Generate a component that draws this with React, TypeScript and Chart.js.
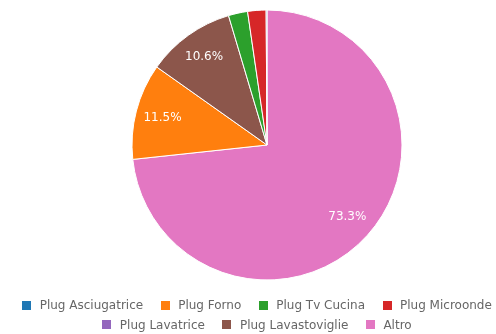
import React, { useEffect, useRef } from "react";
import { Chart, registerables } from "chart.js";

Chart.register(...registerables);

// Legend order (as shown in the reference legend)
const categories = [
  "Plug Asciugatrice",
  "Plug Forno",
  "Plug Tv Cucina",
  "Plug Microonde",
  "Plug Lavatrice",
  "Plug Lavastoviglie",
  "Altro",
];
const values = [0.1, 11.5, 2.3, 2.2, 0, 10.6, 73.3];
const colors = ["#1f77b4", "#ff7f0e", "#2ca02c", "#d62728", "#9467bd", "#8c564b", "#e377c2"];

const FONT = '"DejaVu Sans", sans-serif';

// Slices are drawn largest first, clockwise from the top
const order = categories.map((_, i) => i).sort((a, b) => values[b] - values[a]);

const sliceLabels = {
  id: "sliceLabels",
  afterDatasetsDraw(chart: any) {
    const ctx = chart.ctx;
    const meta = chart.getDatasetMeta(0);
    const data = chart.data.datasets[0].data as number[];
    const total = data.reduce((a, b) => a + b, 0);
    ctx.save();
    ctx.font = `12px ${FONT}`;
    ctx.fillStyle = "#ffffff";
    ctx.textAlign = "center";
    ctx.textBaseline = "middle";
    meta.data.forEach((arc: any, i: number) => {
      const pct = (data[i] / total) * 100;
      if (pct < 5) return;
      const { x, y, startAngle, endAngle, outerRadius } = arc.getProps(
        ["x", "y", "startAngle", "endAngle", "outerRadius"],
        true
      );
      const mid = (startAngle + endAngle) / 2;
      const r = outerRadius * 0.8;
      ctx.fillText(pct.toFixed(1) + "%", x + Math.cos(mid) * r, y + Math.sin(mid) * r);
    });
    ctx.restore();
  },
};

export default function App() {
  const canvasRef = useRef<HTMLCanvasElement | null>(null);

  useEffect(() => {
    if (!canvasRef.current) return;
    const chart = new Chart(canvasRef.current, {
      type: "pie",
      data: {
        labels: order.map((i) => categories[i]),
        datasets: [
          {
            data: order.map((i) => values[i]),
            backgroundColor: order.map((i) => colors[i]),
            borderColor: "#ffffff",
            borderWidth: 1,
            hoverBorderWidth: 1,
          },
        ],
      },
      options: {
        animation: false,
        responsive: true,
        maintainAspectRatio: false,
        radius: 135,
        layout: { padding: { left: 38, right: 0, top: 10, bottom: 54 } },
        plugins: {
          legend: { display: false },
          tooltip: { enabled: false },
        },
      } as any,
      plugins: [sliceLabels],
    });
    return () => chart.destroy();
  }, []);

  return (
    <div
      style={{
        position: "fixed",
        left: 0,
        top: 0,
        width: 496,
        height: 334,
        overflow: "hidden",
        background: "#ffffff",
      }}
    >
      <div style={{ position: "absolute", left: 0, top: 0, width: 496, height: 334 }}>
        <canvas ref={canvasRef} />
      </div>
      <div
        style={{
          position: "absolute",
          left: 9,
          top: 298,
          width: 496,
          display: "flex",
          flexWrap: "wrap",
          justifyContent: "center",
          columnGap: 17.5,
          rowGap: 5.5,
          fontFamily: FONT,
          fontSize: 12,
          lineHeight: "14px",
          color: "#666666",
        }}
      >
        {categories.map((c, i) => (
          <div key={c} style={{ display: "flex", alignItems: "center", whiteSpace: "nowrap" }}>
            <span
              style={{
                display: "inline-block",
                width: 9,
                height: 9,
                background: colors[i],
                marginRight: 8.5,
              }}
            />
            <span>{c}</span>
          </div>
        ))}
      </div>
    </div>
  );
}
